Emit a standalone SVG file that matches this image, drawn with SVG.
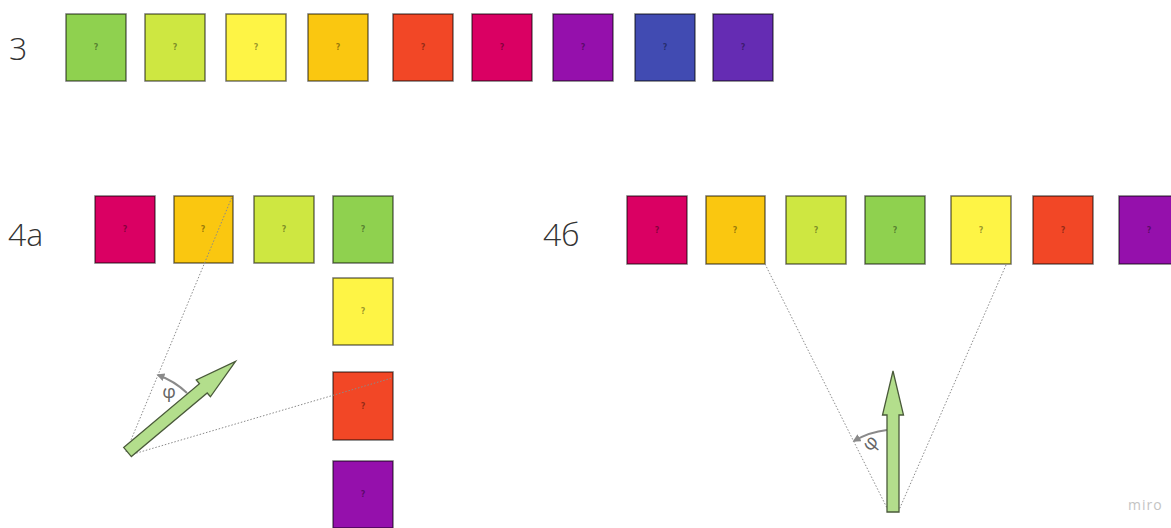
<svg xmlns="http://www.w3.org/2000/svg" width="1171" height="528" viewBox="0 0 1171 528">
<style>
.s{stroke:#000;stroke-opacity:.55;stroke-width:1.5}
.q{font-family:"DejaVu Sans",sans-serif;font-size:8px;font-weight:bold;fill:#000;fill-opacity:.4;text-anchor:middle}
.lbl{font-family:"Open Sans","Noto Sans",sans-serif;font-size:32px;font-weight:300;fill:#333}
.dot{fill:none;stroke:#8a8a8a;stroke-width:1;stroke-dasharray:1.5 1.8}
.arc{fill:none;stroke:#8a8a8a;stroke-width:2}
.big{fill:#b3de8c;stroke:#4a5a3a;stroke-width:1.3;stroke-linejoin:miter}
.phi{font-family:"Open Sans","Noto Sans",sans-serif;font-size:19px;fill:#666;text-anchor:middle}
.gr{fill:#8fd14f}.li{fill:#cee741}.ye{fill:#fef445}.or{fill:#fac710}.re{fill:#f24726}.ma{fill:#da0063}.pu{fill:#9510ac}.bl{fill:#414bb2}.vi{fill:#652cb3}
</style>
<defs>
<marker id="ah" viewBox="0 0 10 10" refX="8" refY="5" markerWidth="4" markerHeight="4" orient="auto" markerUnits="strokeWidth">
<path d="M0,0 L10,5 L0,10 z" fill="#8a8a8a"/>
</marker>
</defs>
<rect width="1171" height="528" fill="#fff"/>

<g id="labels">
<text class="lbl" x="9" y="60">3</text>
<text class="lbl" x="8" y="246">4a</text>
<text class="lbl" x="543" y="246">4б</text>
</g>

<g id="row3">
<g id="r3-1"><rect class="s gr" x="66" y="14" width="60" height="67"/><text class="q" x="96" y="50">?</text></g>
<g id="r3-2"><rect class="s li" x="145" y="14" width="60" height="67"/><text class="q" x="175" y="50">?</text></g>
<g id="r3-3"><rect class="s ye" x="226" y="14" width="60" height="67"/><text class="q" x="256" y="50">?</text></g>
<g id="r3-4"><rect class="s or" x="308" y="14" width="60" height="67"/><text class="q" x="338" y="50">?</text></g>
<g id="r3-5"><rect class="s re" x="393" y="14" width="60" height="67"/><text class="q" x="423" y="50">?</text></g>
<g id="r3-6"><rect class="s ma" x="472" y="14" width="60" height="67"/><text class="q" x="502" y="50">?</text></g>
<g id="r3-7"><rect class="s pu" x="553" y="14" width="60" height="67"/><text class="q" x="583" y="50">?</text></g>
<g id="r3-8"><rect class="s bl" x="635" y="14" width="60" height="67"/><text class="q" x="665" y="50">?</text></g>
<g id="r3-9"><rect class="s vi" x="713" y="14" width="60" height="67"/><text class="q" x="743" y="50">?</text></g>
</g>

<g id="row4a">
<g id="a-1"><rect class="s ma" x="95" y="196" width="60" height="67"/><text class="q" x="125" y="232">?</text></g>
<g id="a-2"><rect class="s or" x="174" y="196" width="59" height="67"/><text class="q" x="203" y="232">?</text></g>
<g id="a-3"><rect class="s li" x="254" y="196" width="60" height="67"/><text class="q" x="284" y="232">?</text></g>
<g id="a-4"><rect class="s gr" x="333" y="196" width="60" height="67"/><text class="q" x="363" y="232">?</text></g>
<g id="a-5"><rect class="s ye" x="333" y="278" width="60" height="67"/><text class="q" x="363" y="314">?</text></g>
<g id="a-6"><rect class="s re" x="333" y="372" width="60" height="68"/><text class="q" x="363" y="409">?</text></g>
<g id="a-7"><rect class="s pu" x="333" y="461" width="60" height="67"/><text class="q" x="363" y="497">?</text></g>
</g>

<g id="row4b">
<g id="b-1"><rect class="s ma" x="627" y="196" width="60" height="68"/><text class="q" x="657" y="233">?</text></g>
<g id="b-2"><rect class="s or" x="706" y="196" width="59" height="68"/><text class="q" x="735" y="233">?</text></g>
<g id="b-3"><rect class="s li" x="786" y="196" width="60" height="68"/><text class="q" x="816" y="233">?</text></g>
<g id="b-4"><rect class="s gr" x="865" y="196" width="60" height="68"/><text class="q" x="895" y="233">?</text></g>
<g id="b-5"><rect class="s ye" x="951" y="196" width="60" height="68"/><text class="q" x="981" y="233">?</text></g>
<g id="b-6"><rect class="s re" x="1033" y="196" width="60" height="68"/><text class="q" x="1063" y="233">?</text></g>
<g id="b-7"><rect class="s pu" x="1119" y="196" width="60" height="68"/><text class="q" x="1149" y="233">?</text></g>
</g>

<g id="connectors">
<line class="dot" x1="126" y1="452" x2="232" y2="197"/>
<line class="dot" x1="130" y1="455" x2="392" y2="378"/>
<line class="dot" x1="765" y1="264" x2="888" y2="510"/>
<line class="dot" x1="1006" y1="265" x2="899" y2="510"/>
<path class="arc" d="M187,393 A83,83 0 0 0 158,375" marker-end="url(#ah)"/>
<path class="arc" d="M887,430 A82,82 0 0 0 854,441" marker-end="url(#ah)"/>
</g>

<g id="arrow-4a" transform="translate(127.5,452) rotate(-40)">
<path class="big" d="M0,-6 L99,-6 L99,-11 L141,0 L99,11 L99,6 L0,6 Z"/>
</g>
<g id="arrow-4b" transform="translate(893,512) rotate(-90)">
<path class="big" d="M0,-6 L97,-6 L97,-10.5 L141,0 L97,10.5 L97,6 L0,6 Z"/>
</g>

<g id="phi-labels">
<text class="phi" x="169" y="398">φ</text>
<text class="phi" x="0" y="0" transform="translate(875,447) rotate(-50)">φ</text>
</g>

<text x="1128" y="510" font-family="'Open Sans','Noto Sans',sans-serif" font-size="14" letter-spacing="1" fill="#c4c4c4">miro</text>
</svg>
